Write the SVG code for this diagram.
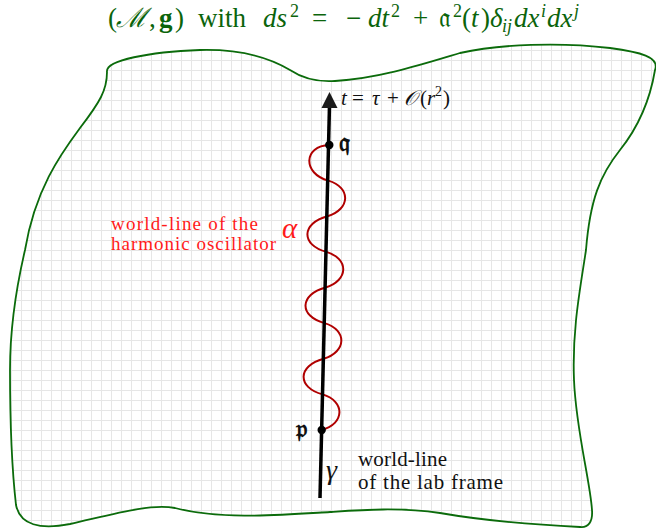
<svg xmlns="http://www.w3.org/2000/svg" width="656" height="529" viewBox="0 0 656 529">
<defs>
<pattern id="grid" patternUnits="userSpaceOnUse" x="1" y="0" width="10" height="10">
<rect width="10" height="10" fill="#fff"/>
<path d="M0.5,0V10M0,0.5H10" stroke="#e6e6e6" stroke-width="1" fill="none"/>
</pattern>
</defs>
<rect width="656" height="529" fill="#fff"/>
<g id="manifold">
<path d="M107,72 C105,60 150,52 200,50 C240,49 270,58 290,70 C305,80 320,82 335,81 C380,78 420,65 460,53 C500,44 560,42 610,48 C640,52 660,57 655,70 C650,100 640,125 620,150 C600,175 590,200 586,250 C580,290 572,330 574,380 C576,430 590,480 592,510 C593,522 588,528 580,527 C540,525 480,520 440,513 C400,507 360,510 330,512 C280,515 220,520 175,508 C150,503 110,515 70,524 C40,530 20,525 16,505 C12,470 10,420 10,370 C10,320 18,280 25,250 C35,190 60,155 80,128 C100,102 107,90 107,72 Z" fill="url(#grid)" stroke="#0b6b0b" stroke-width="1.8"/>
</g>
<g id="title" fill="#0b640b">
<text y="27" font-family="'Liberation Serif', serif" font-size="27">
<tspan x="108">(</tspan><tspan x="116" font-family="'DejaVu Serif', serif" font-style="italic">ℳ</tspan><tspan x="149">,</tspan><tspan x="159" font-weight="bold">g</tspan><tspan x="175">)</tspan><tspan x="198">with</tspan><tspan x="263" font-style="italic">ds</tspan><tspan x="290" y="17" font-size="18">2</tspan><tspan x="312" y="27">=</tspan><tspan x="346">−</tspan><tspan x="368" font-style="italic">dt</tspan><tspan x="391" y="17" font-size="18">2</tspan><tspan x="413" y="27">+</tspan><tspan x="439" font-family="'DejaVu Serif', serif">𝔞</tspan><tspan x="453" y="17" font-size="18">2</tspan><tspan x="462" y="27">(</tspan><tspan x="471" font-style="italic">t</tspan><tspan x="481">)</tspan><tspan x="490" font-style="italic">δ</tspan><tspan x="502" y="32" font-size="18" font-style="italic">ij</tspan><tspan x="514" y="27" font-style="italic">dx</tspan><tspan x="541" y="17" font-size="18" font-style="italic">i</tspan><tspan x="547" y="27" font-style="italic">dx</tspan><tspan x="574" y="17" font-size="18" font-style="italic">j</tspan>
</text>
</g>
<g id="connectors">
<path id="alpha-worldline" d="M329.3,145 C303.3,146 302.36,173.6 328.36,180.6 C351.36,187.6 350.41,209.25 327.41,216.25 C301.41,223.25 300.46,244.9 326.46,251.9 C349.46,258.9 348.5,280.5 325.5,287.5 C299.5,294.5 298.55,316.1 324.55,323.1 C347.55,330.1 346.6,351.75 323.6,358.75 C297.6,365.75 296.65,387.4 322.65,394.4 C345.65,401.4 344.7,424 321.7,430" fill="none" stroke="#b00000" stroke-width="2"/>
<path id="gamma-worldline" d="M320,498 L329.5,105" stroke="#000" stroke-width="3.5" fill="none"/>
<polygon points="329.5,92 321.5,108 337.5,108" fill="#1a1a1a"/>
</g>
<g id="label-t" fill="#111">
<text y="105" font-family="'Liberation Serif', serif" font-size="21"><tspan x="341" font-style="italic">t</tspan><tspan x="352">=</tspan><tspan x="372" font-style="italic">τ</tspan><tspan x="387">+</tspan><tspan x="404" font-family="'DejaVu Serif', serif" font-style="italic">𝒪</tspan><tspan x="420">(</tspan><tspan x="427" font-style="italic">r</tspan><tspan x="435" y="96" font-size="14">2</tspan><tspan x="443" y="105">)</tspan></text>
</g>
<g id="node-q">
<circle cx="329.3" cy="145" r="4.2" fill="#000"/>
<text x="339" y="151" font-family="'DejaVu Serif', serif" fill="#111" font-size="25" font-weight="bold">𝔮</text>
</g>
<g id="node-p">
<circle cx="321.7" cy="430" r="4.2" fill="#000"/>
<text x="296" y="437" font-family="'DejaVu Serif', serif" fill="#111" font-size="25" font-weight="bold">𝔭</text>
</g>
<g id="label-alpha" fill="#ff1a1a" font-family="'Liberation Serif', serif">
<text x="282" y="238" font-size="29" font-style="italic">α</text>
<text x="111" y="230" font-size="19" textLength="147">world-line of the</text>
<text x="111" y="250" font-size="19" textLength="165">harmonic oscillator</text>
</g>
<g id="label-gamma" fill="#111" font-family="'Liberation Serif', serif">
<text x="326" y="479" font-size="28" font-style="italic">γ</text>
<text x="358" y="466" font-size="21" textLength="89">world-line</text>
<text x="358" y="489" font-size="21" textLength="145">of the lab frame</text>
</g>
</svg>
